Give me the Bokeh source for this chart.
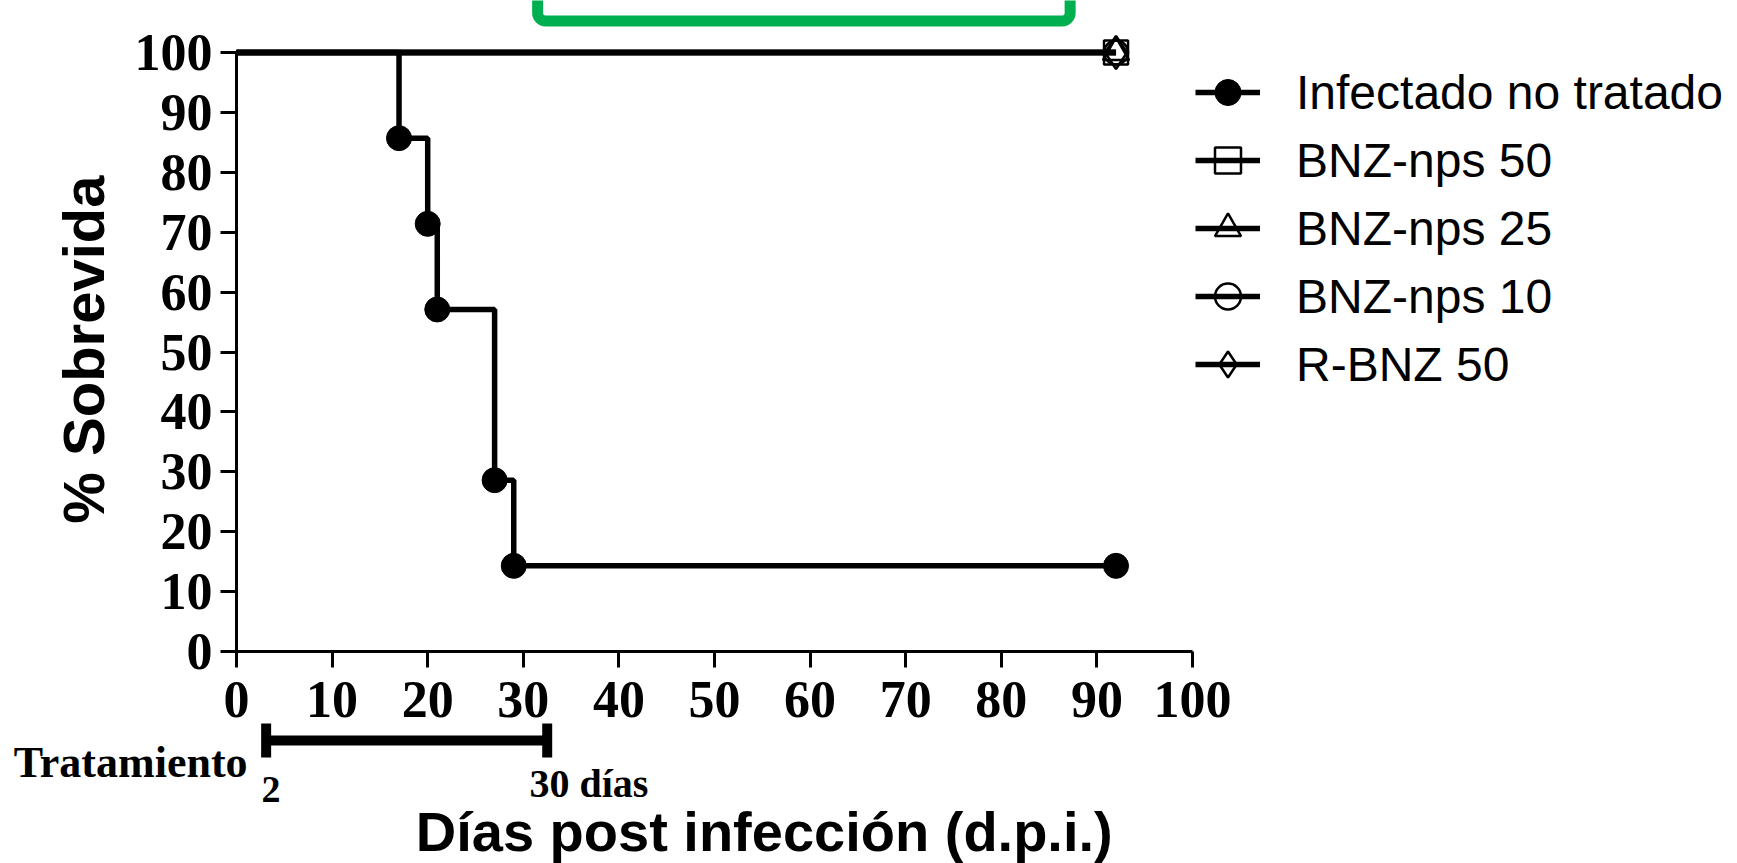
from bokeh.plotting import figure
from bokeh.models import (Range1d, FixedTicker, Legend, LegendItem, Label, LinearAxis,
                          Whisker, TeeHead, ColumnDataSource, BoxAnnotation)
from bokeh.embed import file_html
from bokeh.resources import INLINE
import math

# ---------------- data ----------------
series_names = ["Infectado no tratado", "BNZ-nps 50", "BNZ-nps 25",
                "BNZ-nps 10", "R-BNZ 50"]
days_infected = [0, 17, 20, 21, 27, 29, 92]
surv_infected = [100, 85.7, 71.4, 57.1, 28.6, 14.3, 14.3]
days_treated = [0, 92]
surv_bnz50 = [100, 100]
surv_bnz25 = [100, 100]
surv_bnz10 = [100, 100]
surv_rbnz50 = [100, 100]
x_ticks = [0, 10, 20, 30, 40, 50, 60, 70, 80, 90, 100]
y_ticks = [0, 10, 20, 30, 40, 50, 60, 70, 80, 90, 100]
treatment_labels = ["2", "30 días"]
treatment_bar = [3.1, 32.5]   # where the treatment bracket is drawn (days)

# ---------------- figure (frame covers the whole canvas) ----------------
W, H = 1737, 863
X0, XS = 236.0, 9.56      # pixel of x=0, pixels per day
Y0, YS = 651.0, 5.99      # pixel of y=0, pixels per % unit
p = figure(width=W, height=H,
           x_range=Range1d(-X0 / XS, (W - X0) / XS),
           y_range=Range1d(-(H - Y0) / YS, Y0 / YS),
           x_axis_location=None, y_axis_location=None,
           output_backend="svg", toolbar_location=None,
           min_border=0, min_border_left=0, min_border_right=0,
           min_border_top=0, min_border_bottom=0)
p.grid.visible = False
p.outline_line_color = None
p.background_fill_color = "white"
p.border_fill_color = "white"

SERIF = "Liberation Serif"
SANS = "Liberation Sans"

xax = LinearAxis(fixed_location=0)
yax = LinearAxis(fixed_location=0)
p.add_layout(xax, "below")
p.add_layout(yax, "left")
for ax, ticks in ((xax, x_ticks), (yax, y_ticks)):
    ax.ticker = FixedTicker(ticks=ticks)
    ax.bounds = (0, 100)
    ax.axis_line_width = 3
    ax.axis_line_color = "black"
    ax.major_tick_line_width = 3
    ax.major_tick_line_color = "black"
    ax.major_tick_out = 16
    ax.major_tick_in = 0
    ax.minor_tick_line_color = None
    ax.major_label_text_font = SERIF
    ax.major_label_text_font_style = "bold"
    ax.major_label_text_font_size = "52px"
    ax.major_label_text_color = "black"
xax.major_label_standoff = 14
yax.major_label_standoff = 8

# ---------------- highlight box (decoration) ----------------
p.add_layout(BoxAnnotation(left=31.5, right=87.2, bottom=105.26, top=118,
                           fill_alpha=0, line_color="#00B050", line_alpha=1.0,
                           line_width=11, border_radius=8))

# ---------------- series ----------------
LW = 5.5
r_lines, r_marks = [], []
ln = p.step(days_infected, surv_infected, mode="after", line_width=LW, color="black")
mk = p.scatter(days_infected[1:], surv_infected[1:], marker="circle", size=25,
               fill_color="black", line_color="black")
r_lines.append(ln); r_marks.append(mk)

open_series = [(surv_bnz50, "square", 24), (surv_bnz25, "triangle", 26),
               (surv_bnz10, "circle", 24), (surv_rbnz50, "diamond", 33)]
for surv, marker, sz in open_series:
    ln = p.step(days_treated, surv, mode="after", line_width=LW, color="black")
    mk = p.scatter(days_treated[-1:], surv[-1:], marker=marker, size=sz,
                   fill_color=None, line_color="black", line_width=2.5)
    r_lines.append(ln); r_marks.append(mk)

# ---------------- legend ----------------
items = [LegendItem(label=n, renderers=[l, m]) for n, l, m in zip(series_names, r_lines, r_marks)]
legend = Legend(items=items, location=(1195, 465), glyph_width=65, glyph_height=68,
                label_height=68, spacing=0, padding=0, margin=0, label_standoff=36,
                label_text_font=SANS, label_text_font_size="48px",
                label_text_color="black", border_line_color=None,
                background_fill_alpha=0)
p.add_layout(legend)

# ---------------- axis titles ----------------
p.add_layout(Label(x=-16.0, y=50.4, text="% Sobrevida", angle=math.pi / 2,
                   text_align="center", text_baseline="middle",
                   text_font=SANS, text_font_style="bold", text_font_size="58px",
                   text_color="black"))
p.add_layout(Label(x=55.2, y=-30.0, text="Días post infección (d.p.i.)",
                   text_align="center", text_baseline="alphabetic",
                   text_font=SANS, text_font_style="bold", text_font_size="56px",
                   text_color="black"))

# ---------------- treatment bracket ----------------
src = ColumnDataSource(dict(base=[-14.86], lower=[treatment_bar[0]], upper=[treatment_bar[1]]))
p.add_layout(Whisker(source=src, base="base", lower="lower", upper="upper",
                     dimension="width", line_width=10, line_color="black",
                     lower_head=TeeHead(size=34, line_width=10, line_color="black"),
                     upper_head=TeeHead(size=34, line_width=10, line_color="black")))
p.add_layout(Label(x=-23.3, y=-18.5, text="Tratamiento", text_align="left",
                   text_baseline="alphabetic", text_font=SERIF, text_font_style="bold",
                   text_font_size="44px", text_color="black"))
p.add_layout(Label(x=3.6, y=-23.0, text=treatment_labels[0], text_align="center",
                   text_baseline="alphabetic", text_font=SERIF, text_font_style="bold",
                   text_font_size="38px", text_color="black"))
p.add_layout(Label(x=30.65, y=-22.0, text=treatment_labels[1], text_align="left",
                   text_baseline="alphabetic", text_font=SERIF, text_font_style="bold",
                   text_font_size="40px", text_color="black"))

open("out.html", "w").write(file_html(p, INLINE))
